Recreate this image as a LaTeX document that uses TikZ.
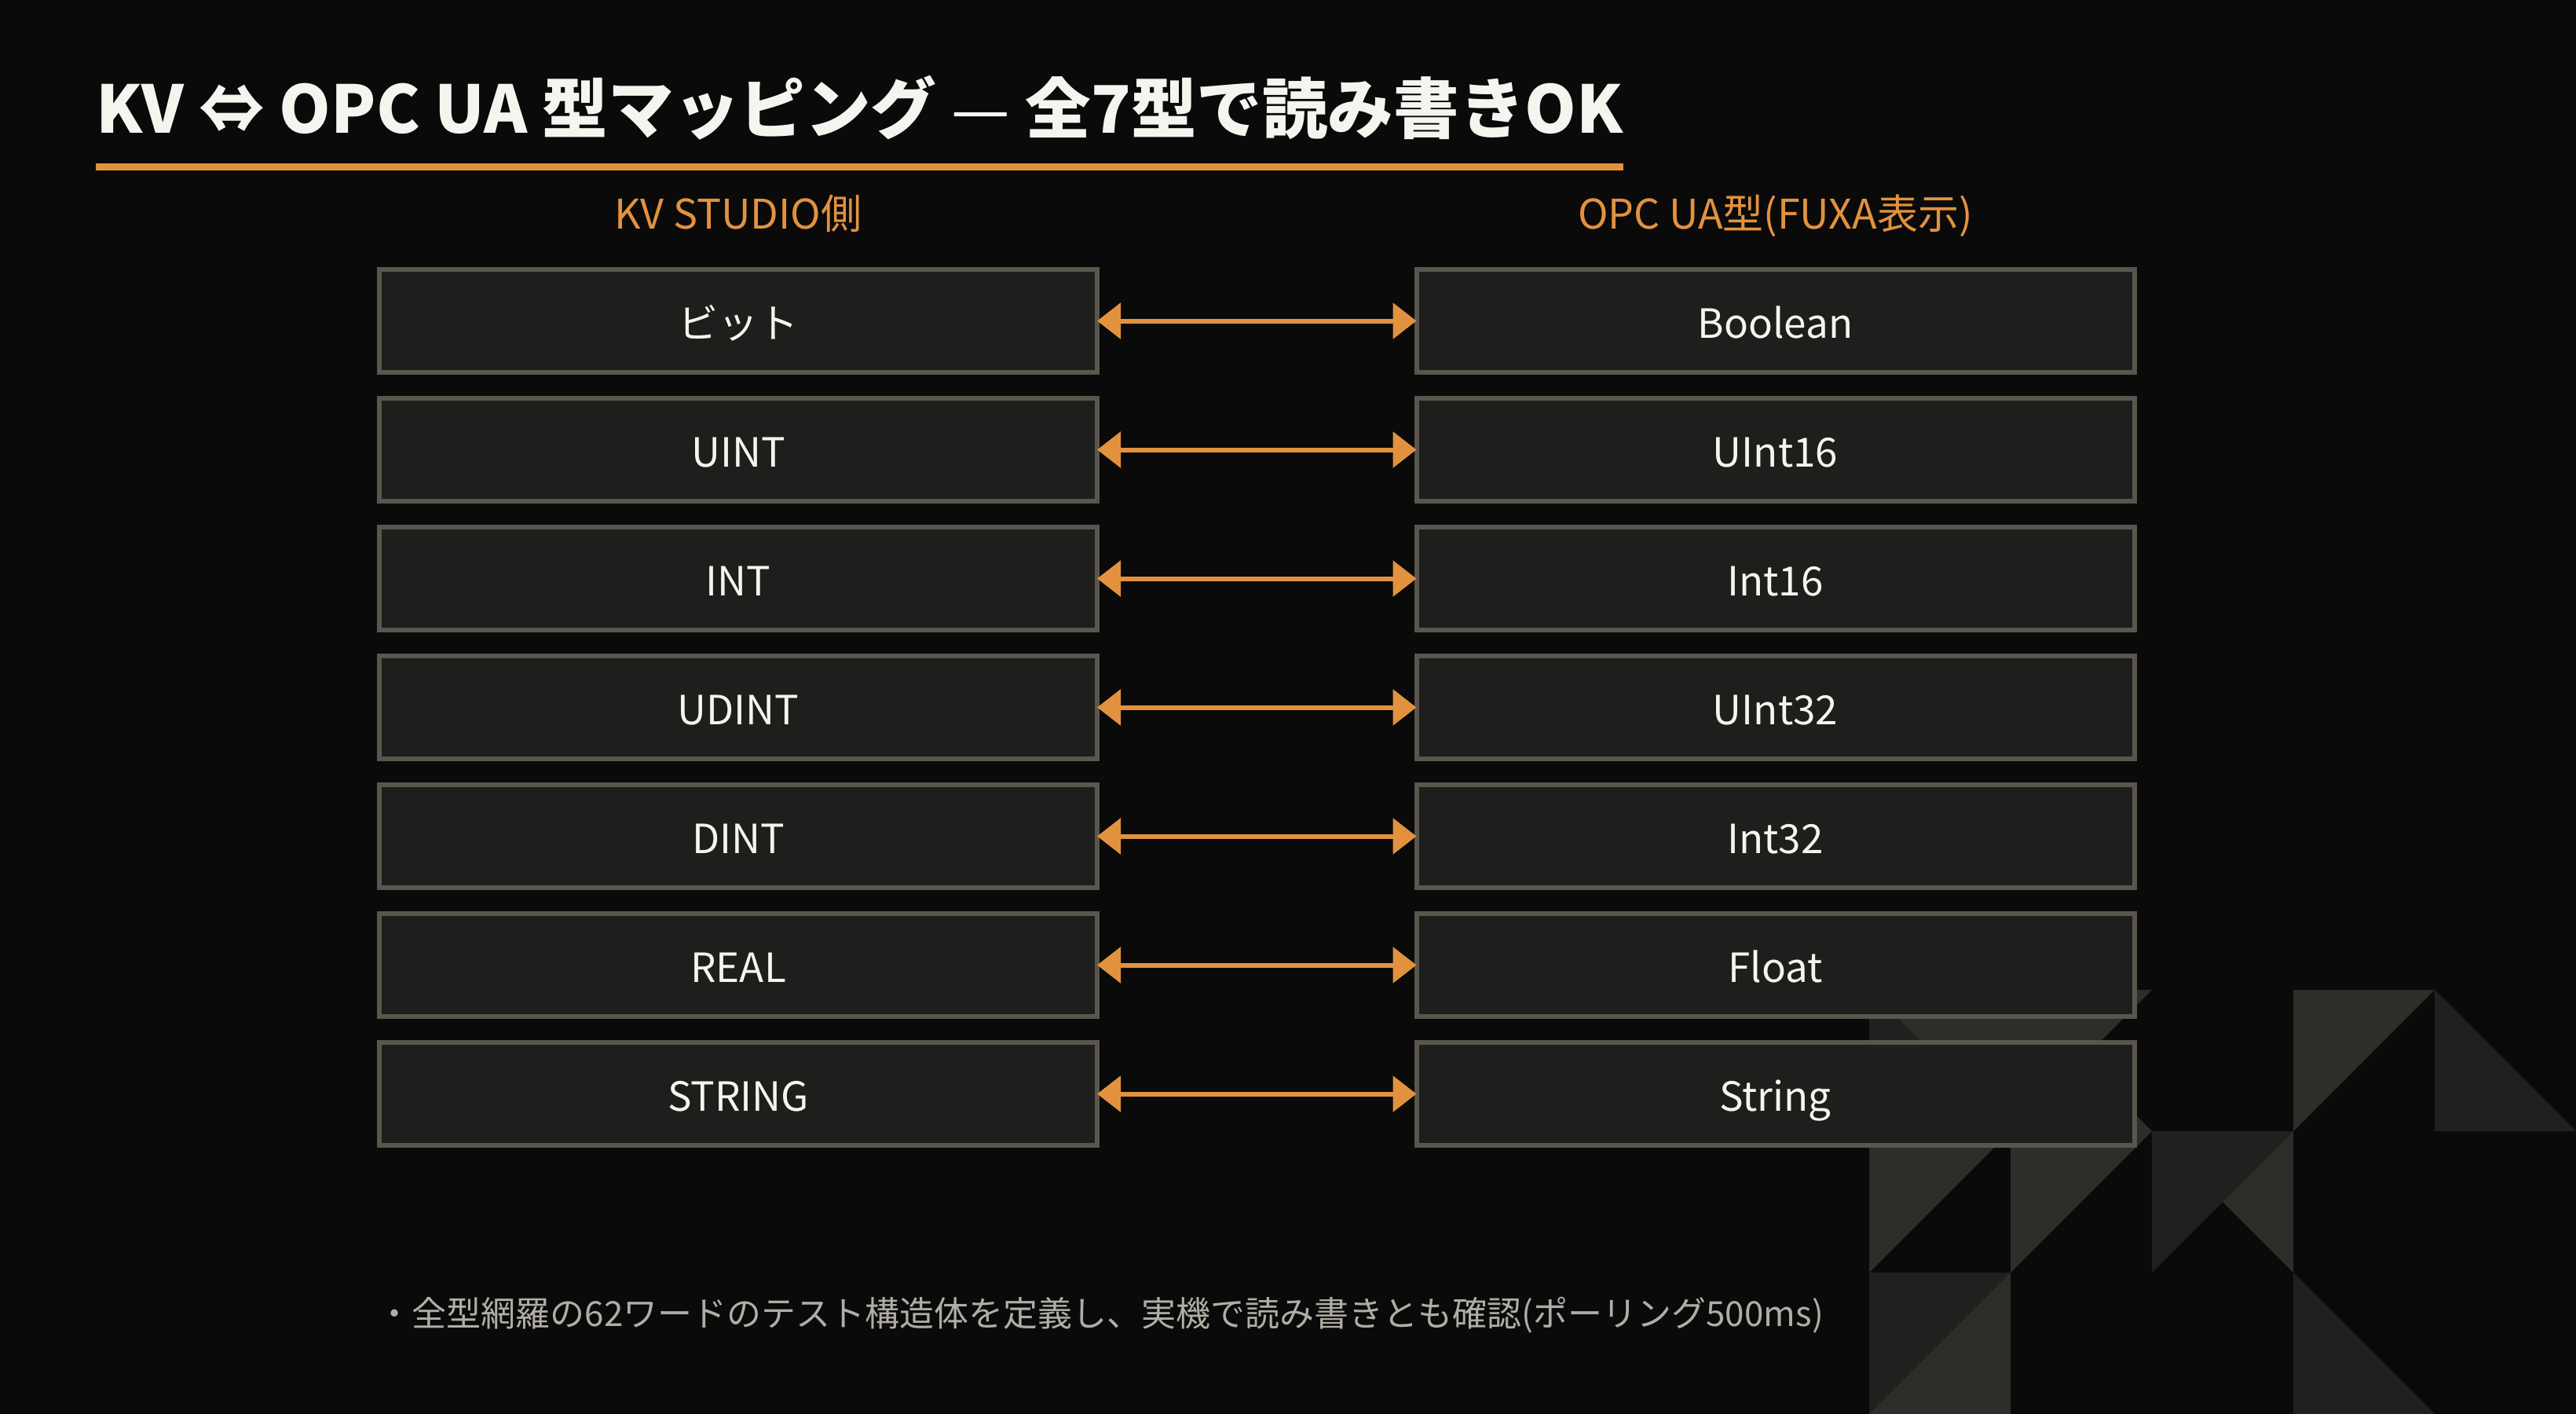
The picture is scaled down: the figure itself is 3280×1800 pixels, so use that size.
\documentclass[tikz,border=0pt]{standalone}
\usepackage{fontspec}
\setmainfont{Noto Sans CJK JP}
\usepackage{xcolor}
\usetikzlibrary{arrows.meta}

\definecolor{bgblack}{RGB}{10,10,10}
\definecolor{accent}{RGB}{226,146,62}
\definecolor{boxfill}{RGB}{30,30,28}
\definecolor{boxline}{RGB}{90,86,78}
\definecolor{boxtext}{RGB}{245,245,240}
\definecolor{notegray}{RGB}{176,173,165}
\definecolor{tilelight}{RGB}{45,45,41}
\definecolor{tiledark}{RGB}{32,32,31}

\tikzset{
  typebox/.style={draw=boxline, fill=boxfill, line width=1.5pt, outer sep=0pt,
    minimum width=228.5pt, minimum height=32.75pt, text=boxtext,
    text height=11pt, text depth=0pt, font=\fontsize{12.8pt}{15pt}\selectfont},
  colhead/.style={anchor=base, inner sep=0pt, text=accent, font=\fontsize{13pt}{15pt}\selectfont},
  maplink/.style={draw=accent, line width=1.5pt,
    {Triangle[length=7.5pt,width=11.25pt]}-{Triangle[length=7.5pt,width=11.25pt]}}
}

\begin{document}
\begin{tikzpicture}[x=0.25pt,y=0.25pt,yscale=-1,xscale=1]
        %background, sets page size 3280 x 1800
        \fill[bgblack] (0,0) rectangle (3280,1800);

        %Tiles bottom right
        \fill[tilelight] (2380,1260) -- (2740,1260) -- (2560,1440) -- cycle;
        \fill[tilelight] (2560,1260) -- (2560,1440) -- (2740,1440) -- cycle;
        \fill[tiledark] (2380,1260) -- (2380,1440) -- (2560,1440) -- cycle;
        \fill[tilelight] (2920,1260) -- (3100,1260) -- (2920,1440) -- cycle;
        \fill[tiledark] (3100,1260) -- (3100,1440) -- (3280,1440) -- cycle;
        \fill[tilelight] (2380,1440) -- (2560,1440) -- (2380,1620) -- cycle;
        \fill[tilelight] (2560,1440) -- (2740,1440) -- (2560,1620) -- cycle;
        \fill[tiledark] (2740,1440) -- (2920,1440) -- (2740,1620) -- cycle;
        \fill[tilelight] (2920,1440) -- (2920,1620) -- (2830,1530) -- cycle;
        \fill[tiledark] (2380,1620) -- (2560,1620) -- (2380,1800) -- cycle;
        \fill[tilelight] (2560,1620) -- (2560,1800) -- (2380,1800) -- cycle;
        \fill[tiledark] (2920,1620) -- (2920,1800) -- (3100,1800) -- cycle;

        % Title
        \node [anchor=base west, inner sep=0pt, text=boxtext, font=\bfseries\fontsize{20.9pt}{25pt}\selectfont] (title) at (122,169) {KV ⇔ OPC UA 型マッピング {\mdseries —} 全7型で読み書きOK};
        \fill[accent] (title.west |- 0,208) rectangle (title.east |- 0,217);

        % Column heads
        \node [colhead] (kvhead) at (940,291) {KV STUDIO側};
        \node [colhead] (uahead) at (2260.5,291) {OPC UA型(FUXA表示)};

        % KV side
        \node [typebox] (kv1) at (940,408.5) {ビット};
        \node [typebox] (kv2) at (940,572.5) {UINT};
        \node [typebox] (kv3) at (940,736.5) {INT};
        \node [typebox] (kv4) at (940,900.5) {UDINT};
        \node [typebox] (kv5) at (940,1064.5) {DINT};
        \node [typebox] (kv6) at (940,1228.5) {REAL};
        \node [typebox] (kv7) at (940,1392.5) {STRING};

        % OPC UA side
        \node [typebox] (ua1) at (2260.5,408.5) {Boolean};
        \node [typebox] (ua2) at (2260.5,572.5) {UInt16};
        \node [typebox] (ua3) at (2260.5,736.5) {Int16};
        \node [typebox] (ua4) at (2260.5,900.5) {UInt32};
        \node [typebox] (ua5) at (2260.5,1064.5) {Int32};
        \node [typebox] (ua6) at (2260.5,1228.5) {Float};
        \node [typebox] (ua7) at (2260.5,1392.5) {String};

        % Mapping arrows
        \draw [maplink] (kv1.east) -- (ua1.west);
        \draw [maplink] (kv2.east) -- (ua2.west);
        \draw [maplink] (kv3.east) -- (ua3.west);
        \draw [maplink] (kv4.east) -- (ua4.west);
        \draw [maplink] (kv5.east) -- (ua5.west);
        \draw [maplink] (kv6.east) -- (ua6.west);
        \draw [maplink] (kv7.east) -- (ua7.west);

        % Note
        \node [anchor=base west, inner sep=0pt, text=notegray, font=\fontsize{11pt}{13pt}\selectfont] (note) at (480,1688) {・全型網羅の62ワードのテスト構造体を定義し、実機で読み書きとも確認(ポーリング500ms)};

\end{tikzpicture}
\end{document}
